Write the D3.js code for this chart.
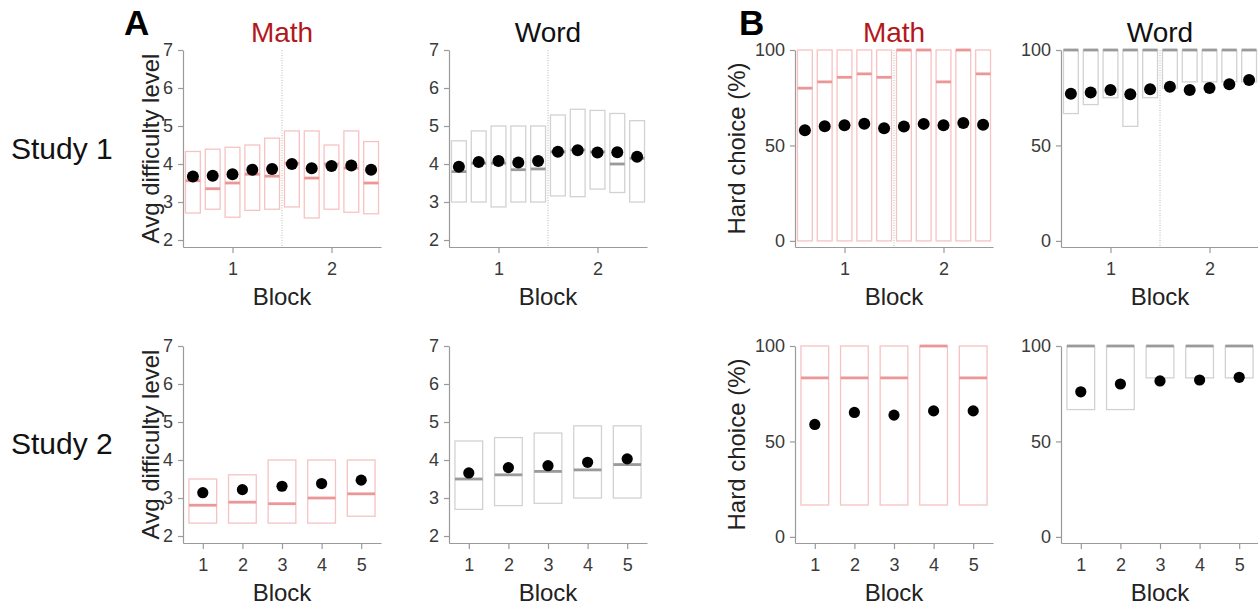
<!DOCTYPE html>
<html>
<head>
<meta charset="UTF-8">
<title>Difficulty choice</title>
<script src="https://d3js.org/d3.v7.min.js"></script>
<style>
  body { margin: 0; background: #fff; }
  text { font-family: "Liberation Sans", Arial, sans-serif; }
</style>
</head>
<body>
<svg width="1258" height="609"></svg>
<script>
// x positions: study 1 is split into half-block bins, study 2 into whole blocks
var subBlocks1 = [0.6, 0.8, 1.0, 1.2, 1.4, 1.6, 1.8, 2.0, 2.2, 2.4];
var blocks2 = [1, 2, 3, 4, 5];
var blockTicks1 = [1, 2];
var blockTicks2 = [1, 2, 3, 4, 5];
var levelTicks = [2, 3, 4, 5, 6, 7];
var hardTicks = [0, 50, 100];

// Study 1, avg difficulty level
var s1MathLevelHi   = [4.33, 4.39, 4.44, 4.50, 4.68, 4.87, 4.87, 4.50, 4.87, 4.59];
var s1MathLevelLo   = [2.71, 2.81, 2.60, 2.78, 2.81, 2.87, 2.58, 2.81, 2.73, 2.69];
var s1MathLevelMed  = [3.56, 3.35, 3.50, 3.73, 3.68, 4.02, 3.63, 4.00, 3.89, 3.50];
var s1MathLevelMean = [3.67, 3.69, 3.73, 3.85, 3.87, 4.00, 3.89, 3.95, 3.96, 3.85];

var s1WordLevelHi   = [4.61, 4.87, 5.00, 5.00, 5.00, 5.29, 5.44, 5.41, 5.33, 5.14];
var s1WordLevelLo   = [3.00, 3.00, 2.87, 3.00, 3.00, 3.16, 3.14, 3.34, 3.25, 3.00];
var s1WordLevelMed  = [3.80, 4.02, 4.02, 3.85, 3.87, 4.32, 4.37, 4.32, 4.00, 4.15];
var s1WordLevelMean = [3.93, 4.05, 4.08, 4.04, 4.08, 4.32, 4.36, 4.30, 4.31, 4.19];

// Study 1, hard choice (%)
var s1MathHardHi   = [100, 100, 100, 100, 100, 100, 100, 100, 100, 100];
var s1MathHardLo   = [0, 0, 0, 0, 0, 0, 0, 0, 0, 0];
var s1MathHardMed  = [80.0, 83.3, 85.7, 87.5, 85.7, 100, 100, 83.3, 100, 87.5];
var s1MathHardMean = [57.9, 60.0, 60.6, 61.4, 59.0, 59.9, 61.3, 60.6, 61.8, 60.9];

var s1WordHardHi   = [100, 100, 100, 100, 100, 100, 100, 100, 100, 100];
var s1WordHardLo   = [66.7, 71.4, 75.0, 60.0, 75.0, 80.0, 83.3, 83.3, 83.3, 83.3];
var s1WordHardMed  = [100, 100, 100, 100, 100, 100, 100, 100, 100, 100];
var s1WordHardMean = [77.1, 77.7, 79.1, 76.8, 79.4, 80.8, 79.1, 80.1, 82.1, 84.3];

// Study 2, avg difficulty level
var s2MathLevelHi   = [3.50, 3.61, 4.00, 4.00, 4.00];
var s2MathLevelLo   = [2.34, 2.34, 2.34, 2.34, 2.52];
var s2MathLevelMed  = [2.81, 2.89, 2.85, 3.00, 3.11];
var s2MathLevelMean = [3.14, 3.22, 3.31, 3.38, 3.47];

var s2WordLevelHi   = [4.50, 4.59, 4.71, 4.90, 4.90];
var s2WordLevelLo   = [2.70, 2.80, 2.86, 3.00, 3.00];
var s2WordLevelMed  = [3.50, 3.61, 3.70, 3.74, 3.88];
var s2WordLevelMean = [3.66, 3.80, 3.85, 3.94, 4.03];

// Study 2, hard choice (%)
var s2MathHardHi   = [100, 100, 100, 100, 100];
var s2MathHardLo   = [16.7, 16.7, 16.7, 16.7, 16.7];
var s2MathHardMed  = [83.3, 83.3, 83.3, 100, 83.3];
var s2MathHardMean = [58.9, 65.2, 63.8, 66.0, 66.0];

var s2WordHardHi   = [100, 100, 100, 100, 100];
var s2WordHardLo   = [66.7, 66.7, 83.3, 83.3, 83.3];
var s2WordHardMed  = [100, 100, 100, 100, 100];
var s2WordHardMean = [76.0, 80.1, 81.7, 82.2, 83.6];

var panels = [
  {col: 0, row: 0, kind: "level", task: "math", x: subBlocks1, hi: s1MathLevelHi, lo: s1MathLevelLo, med: s1MathLevelMed, mean: s1MathLevelMean},
  {col: 1, row: 0, kind: "level", task: "word", x: subBlocks1, hi: s1WordLevelHi, lo: s1WordLevelLo, med: s1WordLevelMed, mean: s1WordLevelMean},
  {col: 2, row: 0, kind: "hard",  task: "math", x: subBlocks1, hi: s1MathHardHi, lo: s1MathHardLo, med: s1MathHardMed, mean: s1MathHardMean},
  {col: 3, row: 0, kind: "hard",  task: "word", x: subBlocks1, hi: s1WordHardHi, lo: s1WordHardLo, med: s1WordHardMed, mean: s1WordHardMean},
  {col: 0, row: 1, kind: "level", task: "math", x: blocks2, hi: s2MathLevelHi, lo: s2MathLevelLo, med: s2MathLevelMed, mean: s2MathLevelMean},
  {col: 1, row: 1, kind: "level", task: "word", x: blocks2, hi: s2WordLevelHi, lo: s2WordLevelLo, med: s2WordLevelMed, mean: s2WordLevelMean},
  {col: 2, row: 1, kind: "hard",  task: "math", x: blocks2, hi: s2MathHardHi, lo: s2MathHardLo, med: s2MathHardMed, mean: s2MathHardMean},
  {col: 3, row: 1, kind: "hard",  task: "word", x: blocks2, hi: s2WordHardHi, lo: s2WordHardLo, med: s2WordHardMed, mean: s2WordHardMean}
];

var colLeft = [183, 449, 795, 1061],
    rowTop = [50, 346],
    pw = 198,
    ph = 197;

var colors = {
  math: {box: "#f6c3c3", med: "#ec9797"},
  word: {box: "#d2d2d2", med: "#9a9a9a"}
};

var svg = d3.select("svg");

panels.forEach(function(p) {
  var left = colLeft[p.col], top = rowTop[p.row];
  var g = svg.append("g");

  var x = d3.scaleLinear()
      .domain(p.row == 0 ? [0.5, 2.5] : [0.5, 5.5])
      .range([left, left + pw]);
  var y = d3.scaleLinear()
      .domain(p.kind == "level" ? [1.816, 7] : [-3.2, 100])
      .range([top + ph, top]);

  var bw = p.row == 0 ? (x(0.15) - x(0)) : (x(0.7) - x(0));
  var c = colors[p.task];

  // boxes
  g.selectAll("rect.box")
    .data(p.x)
    .enter().append("rect")
    .attr("class", "box")
    .attr("x", function(d) { return x(d) - bw / 2; })
    .attr("width", bw)
    .attr("y", function(d, i) { return y(p.hi[i]); })
    .attr("height", function(d, i) { return y(p.lo[i]) - y(p.hi[i]); })
    .attr("fill", "none")
    .attr("stroke", c.box)
    .attr("stroke-width", 1.3);

  // medians
  g.selectAll("line.med")
    .data(p.x)
    .enter().append("line")
    .attr("class", "med")
    .attr("x1", function(d) { return x(d) - bw / 2; })
    .attr("x2", function(d) { return x(d) + bw / 2; })
    .attr("y1", function(d, i) { return y(p.med[i]); })
    .attr("y2", function(d, i) { return y(p.med[i]); })
    .attr("stroke", c.med)
    .attr("stroke-width", 2.8);

  // block divider in study 1
  if (p.row == 0) {
    g.append("line")
      .attr("x1", x(1.5)).attr("x2", x(1.5))
      .attr("y1", top).attr("y2", top + ph)
      .attr("stroke", "#b8b8b8")
      .attr("stroke-width", 1)
      .attr("stroke-dasharray", "1,1.5");
  }

  // means
  g.selectAll("circle.mean")
    .data(p.x)
    .enter().append("circle")
    .attr("class", "mean")
    .attr("cx", function(d) { return x(d); })
    .attr("cy", function(d, i) { return y(p.mean[i]); })
    .attr("r", p.row == 0 ? 6 : 5.6)
    .attr("fill", "#000");

  // axes
  var yAxis = d3.axisLeft(y)
      .tickValues(p.kind == "level" ? levelTicks : hardTicks)
      .tickFormat(d3.format("d"))
      .tickSize(5).tickSizeOuter(0).tickPadding(5);
  var xAxis = d3.axisBottom(x)
      .tickValues(p.row == 0 ? blockTicks1 : blockTicks2)
      .tickFormat(d3.format("d"))
      .tickSize(6).tickSizeOuter(0).tickPadding(9);

  var ya = g.append("g").attr("transform", "translate(" + left + ",0)").call(yAxis);
  var xa = g.append("g").attr("transform", "translate(0," + (top + ph) + ")").call(xAxis);
  [ya, xa].forEach(function(a) {
    a.selectAll("path, line").attr("stroke", "#9a9a9a").attr("stroke-width", 1.2);
    a.selectAll("text").attr("fill", "#3a3a3a").style("font-size", "18px")
      .style("font-family", "'Liberation Sans', Arial, sans-serif");
  });

  // axis titles
  g.append("text")
    .attr("x", left + pw / 2)
    .attr("y", top + ph + 58)
    .attr("text-anchor", "middle")
    .attr("fill", "#222")
    .style("font-size", "24px")
    .text("Block");

  if (p.col == 0 || p.col == 2) {
    var off = p.kind == "level" ? 24 : 50;
    g.append("text")
      .attr("transform", "translate(" + (left - off) + "," + (top + ph / 2) + ") rotate(-90)")
      .attr("text-anchor", "middle")
      .attr("fill", "#222")
      .style("font-size", "24px")
      .text(p.kind == "level" ? "Avg difficulty level" : "Hard choice (%)");
  }

  if (p.row == 0) {
    g.append("text")
      .attr("x", left + pw / 2)
      .attr("y", top - 8)
      .attr("text-anchor", "middle")
      .attr("fill", p.task == "math" ? "#b2181b" : "#111")
      .style("font-size", "28px")
      .text(p.task == "math" ? "Math" : "Word");
  }
});

// panel letters and row labels
svg.append("text").attr("x", 124).attr("y", 35)
  .style("font-size", "35px").style("font-weight", "bold").attr("fill", "#000").text("A");
svg.append("text").attr("x", 739).attr("y", 35)
  .style("font-size", "35px").style("font-weight", "bold").attr("fill", "#000").text("B");

svg.append("text").attr("x", 11).attr("y", 159)
  .style("font-size", "30px").attr("fill", "#111").text("Study 1");
svg.append("text").attr("x", 11).attr("y", 454)
  .style("font-size", "30px").attr("fill", "#111").text("Study 2");
</script>
</body>
</html>
